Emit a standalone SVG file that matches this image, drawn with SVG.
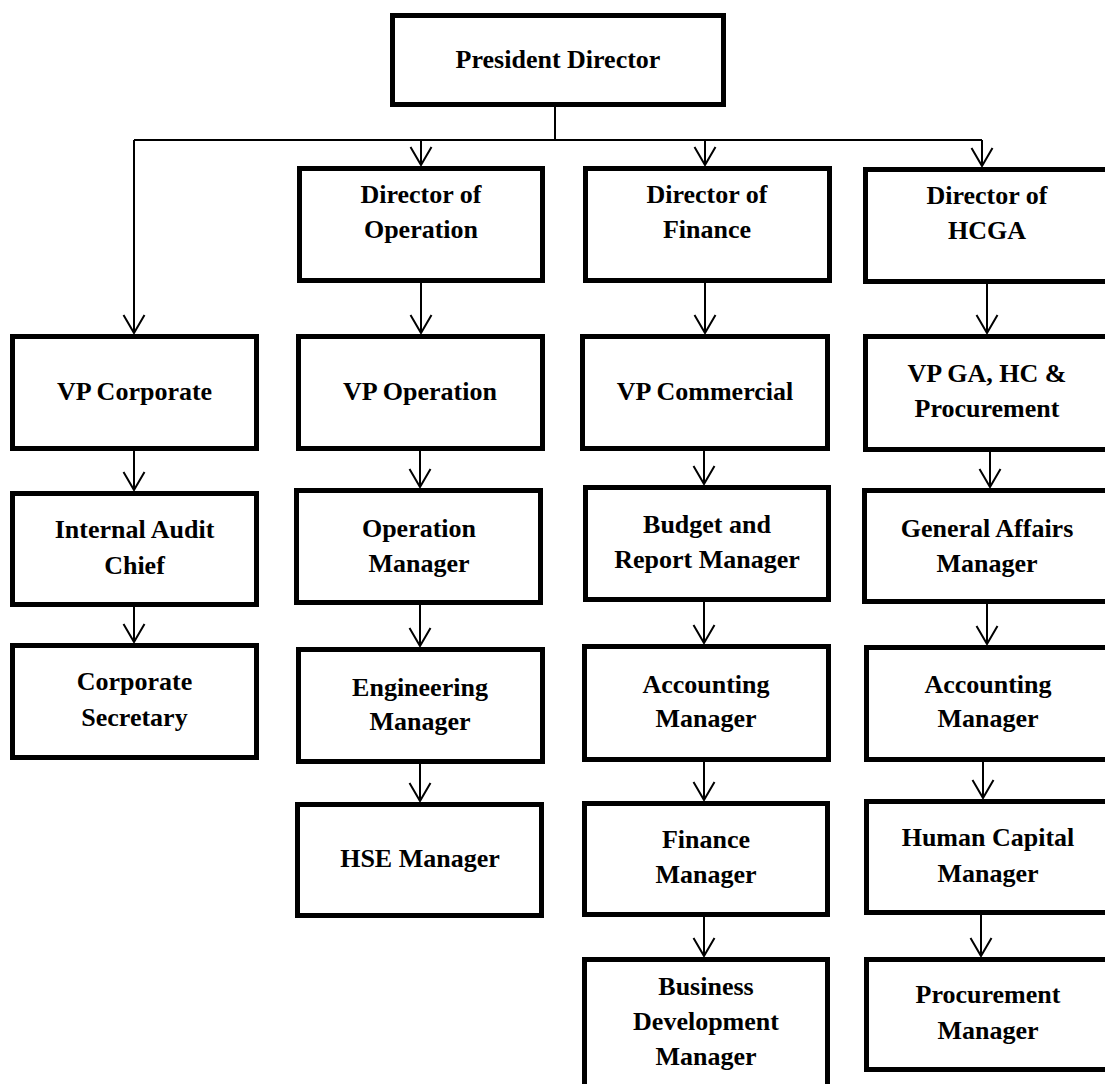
<svg xmlns="http://www.w3.org/2000/svg" width="1105" height="1084" viewBox="0 0 1105 1084">
<defs>
<style>
.box{fill:#fff;stroke:#000;stroke-width:5}
.t{font-family:"Liberation Serif","Times New Roman",serif;font-weight:bold;font-size:26px;fill:#000;text-anchor:middle}
.c{fill:none;stroke:#000;stroke-width:2}
.a{fill:none;stroke:#000;stroke-width:2;marker-end:url(#arr)}
</style>
<marker id="arr" viewBox="-2 -12 22 24" markerWidth="22" markerHeight="24" refX="18" refY="0" orient="auto" markerUnits="userSpaceOnUse">
<path d="M0,-10.5 L18,0 L0,10.5" fill="none" stroke="#000" stroke-width="2"/>
</marker>
</defs>
<rect width="1105" height="1084" fill="#fff"/>
<g id="connectors">
<path class="c" d="M555,107 V140 M134,140 H982"/>
<path class="a" d="M134,140 V333"/>
<path class="a" d="M421,140 V165"/>
<path class="a" d="M705,140 V165"/>
<path class="a" d="M982,140 V166"/>
<path class="a" d="M421,283 V333"/>
<path class="a" d="M705,283 V333"/>
<path class="a" d="M987,284 V333"/>
<path class="a" d="M134,451 V490"/>
<path class="a" d="M420,447 V487"/>
<path class="a" d="M704,447 V484"/>
<path class="a" d="M990,452 V487"/>
<path class="a" d="M134,607 V642"/>
<path class="a" d="M420,605 V646"/>
<path class="a" d="M704,602 V643"/>
<path class="a" d="M987,604 V644"/>
<path class="a" d="M420,764 V801"/>
<path class="a" d="M704,762 V800"/>
<path class="a" d="M983,762 V798"/>
<path class="a" d="M704,917 V956"/>
<path class="a" d="M981,915 V956"/>
</g>
<g id="president-director"><rect class="box" x="392.5" y="15.5" width="331" height="89"/><text class="t" x="558" y="68">President Director</text></g>
<g id="director-operation"><rect class="box" x="299.5" y="168.5" width="243" height="112"/><text class="t" x="421" y="203">Director of</text><text class="t" x="421" y="238">Operation</text></g>
<g id="director-finance"><rect class="box" x="585.5" y="168.5" width="244" height="112"/><text class="t" x="707" y="203">Director of</text><text class="t" x="707" y="238">Finance</text></g>
<g id="director-hcga"><rect class="box" x="865.5" y="169.5" width="245" height="112"/><text class="t" x="987" y="204">Director of</text><text class="t" x="987" y="239">HCGA</text></g>
<g id="vp-corporate"><rect class="box" x="12.5" y="336.5" width="244" height="112"/><text class="t" x="134.5" y="400">VP Corporate</text></g>
<g id="vp-operation"><rect class="box" x="298.5" y="336.5" width="244" height="112"/><text class="t" x="420" y="400">VP Operation</text></g>
<g id="vp-commercial"><rect class="box" x="582.5" y="336.5" width="245" height="112"/><text class="t" x="705" y="400">VP Commercial</text></g>
<g id="vp-ga-hc-procurement"><rect class="box" x="865.5" y="336.5" width="245" height="113"/><text class="t" x="987" y="382">VP GA, HC &amp;</text><text class="t" x="987" y="417">Procurement</text></g>
<g id="internal-audit-chief"><rect class="box" x="12.5" y="493.5" width="244" height="111"/><text class="t" x="134.5" y="538">Internal Audit</text><text class="t" x="134.5" y="574">Chief</text></g>
<g id="corporate-secretary"><rect class="box" x="12.5" y="645.5" width="244" height="112"/><text class="t" x="134.5" y="690">Corporate</text><text class="t" x="134.5" y="726">Secretary</text></g>
<g id="operation-manager"><rect class="box" x="296.5" y="490.5" width="244" height="112"/><text class="t" x="419" y="537">Operation</text><text class="t" x="419" y="572">Manager</text></g>
<g id="engineering-manager"><rect class="box" x="298.5" y="649.5" width="244" height="112"/><text class="t" x="420" y="696">Engineering</text><text class="t" x="420" y="730">Manager</text></g>
<g id="hse-manager"><rect class="box" x="297.5" y="804.5" width="244" height="111"/><text class="t" x="420" y="867">HSE Manager</text></g>
<g id="budget-report-manager"><rect class="box" x="585.5" y="487.5" width="243" height="112"/><text class="t" x="707" y="533">Budget and</text><text class="t" x="707" y="568">Report Manager</text></g>
<g id="accounting-manager-finance"><rect class="box" x="584.5" y="646.5" width="244" height="113"/><text class="t" x="706" y="693">Accounting</text><text class="t" x="706" y="727">Manager</text></g>
<g id="finance-manager"><rect class="box" x="584.5" y="803.5" width="243" height="111"/><text class="t" x="706" y="848">Finance</text><text class="t" x="706" y="883">Manager</text></g>
<g id="business-development-manager"><rect class="box" x="584.5" y="959.5" width="243" height="140"/><text class="t" x="706" y="995">Business</text><text class="t" x="706" y="1030">Development</text><text class="t" x="706" y="1065">Manager</text></g>
<g id="general-affairs-manager"><rect class="box" x="864.5" y="490.5" width="246" height="111"/><text class="t" x="987" y="537">General Affairs</text><text class="t" x="987" y="572">Manager</text></g>
<g id="accounting-manager-hcga"><rect class="box" x="866.5" y="647.5" width="244" height="112"/><text class="t" x="988" y="693">Accounting</text><text class="t" x="988" y="727">Manager</text></g>
<g id="human-capital-manager"><rect class="box" x="866.5" y="801.5" width="244" height="111"/><text class="t" x="988" y="846">Human Capital</text><text class="t" x="988" y="882">Manager</text></g>
<g id="procurement-manager"><rect class="box" x="866.5" y="959.5" width="244" height="110"/><text class="t" x="988" y="1003">Procurement</text><text class="t" x="988" y="1039">Manager</text></g>
</svg>
